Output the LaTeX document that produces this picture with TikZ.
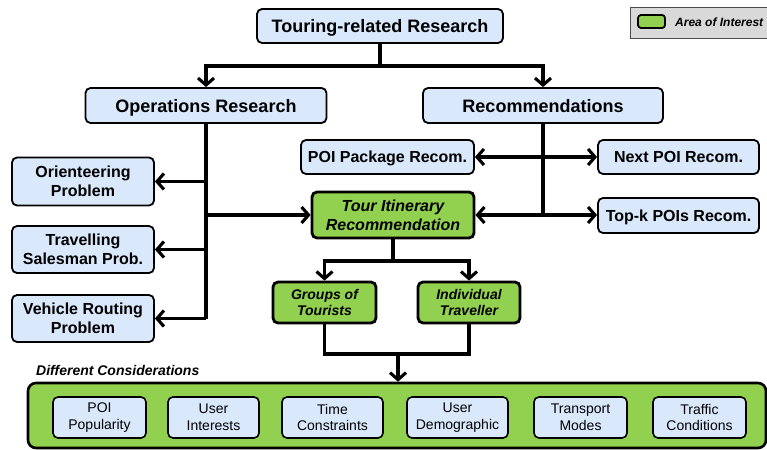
\documentclass[tikz,border=0pt]{standalone}
\usepackage{fontspec}
\setmainfont{Liberation Sans}
\usetikzlibrary{arrows.meta}
\definecolor{blueF}{HTML}{DAE8FC}
\definecolor{greenF}{HTML}{92D050}
\definecolor{greyF}{HTML}{D9D9D9}
\tikzset{
  bluebox/.style={draw=black, fill=blueF, rounded corners=5pt, line width=1.8pt,
    font=\bfseries\fontsize{16}{19}\selectfont, align=center, inner sep=0pt},
  oneline/.style={text depth=0pt},
  greenbox/.style={draw=black, fill=greenF, rounded corners=5pt, line width=2.8pt,
    font=\bfseries\itshape\fontsize{16}{19}\selectfont, align=center, inner sep=0pt},
  smallgreen/.style={greenbox, font=\bfseries\itshape\fontsize{14}{16.7}\selectfont},
  considbox/.style={draw=black, fill=blueF, rounded corners=5pt, line width=1.6pt,
    font=\fontsize{14}{16.7}\selectfont, align=center, inner sep=0pt,
    minimum width=93pt, minimum height=41pt},
  conn/.style={line width=3.1pt, black},
  arr/.style={conn, -{Straight Barb[length=7pt,width=16pt]}},
  darr/.style={conn, {Straight Barb[length=7pt,width=16pt]}-{Straight Barb[length=7pt,width=16pt]}},
}
\begin{document}
\begin{tikzpicture}[x=1pt,y=-1pt]
\useasboundingbox (0,0) rectangle (767,449);
% legend
\draw[fill=greyF, draw=black!70, line width=0.8pt] (630,7) rectangle (775,38);
\node[draw=black, fill=greenF, rounded corners=3pt, line width=1.8pt, minimum width=27pt, minimum height=13pt, inner sep=0pt] (legsw) at (651.5,21.5) {};
\node[anchor=west, font=\bfseries\itshape\fontsize{12}{14}\selectfont, inner sep=0pt] (legtx) at (675,22) {Area of Interest};
% main nodes
\node[bluebox, oneline, font=\bfseries\fontsize{18}{21}\selectfont, minimum width=246pt, minimum height=34pt] (T) at (380,26) {Touring-related Research};
\node[bluebox, oneline, font=\bfseries\fontsize{18}{21}\selectfont, minimum width=241pt, minimum height=35pt] (OR) at (206,105.5) {Operations Research};
\node[bluebox, oneline, font=\bfseries\fontsize{18}{21}\selectfont, minimum width=240pt, minimum height=35pt] (REC) at (543,105.5) {Recommendations};
\node[bluebox, minimum width=142pt, minimum height=48pt] (OP) at (83,181.5) {Orienteering\\Problem};
\node[bluebox, minimum width=142pt, minimum height=47pt] (TSP) at (83,249.5) {Travelling\\Salesman Prob.};
\node[bluebox, minimum width=142pt, minimum height=47pt] (VRP) at (83,318.5) {Vehicle Routing\\Problem};
\node[bluebox, oneline, minimum width=173pt, minimum height=34pt] (PPR) at (387.5,157) {POI Package Recom.};
\node[bluebox, oneline, minimum width=161pt, minimum height=34pt] (NPR) at (678.5,157) {Next POI Recom.};
\node[bluebox, oneline, minimum width=161pt, minimum height=35pt] (TOPK) at (678.5,215.5) {Top-k POIs Recom.};
\node[greenbox, minimum width=162pt, minimum height=46pt] (TIR) at (393,215) {Tour Itinerary\\Recommendation};
\node[smallgreen, minimum width=103pt, minimum height=41pt] (GT) at (324.5,302.5) {Groups of\\Tourists};
\node[smallgreen, minimum width=102pt, minimum height=41pt] (IT) at (469,302.5) {Individual\\Traveller};
\node[anchor=west, font=\bfseries\itshape\fontsize{14}{16}\selectfont, inner sep=0pt] (DC) at (36,370) {Different Considerations};
\node[draw=black, fill=greenF, rounded corners=8pt, line width=2.6pt, minimum width=738pt, minimum height=65pt, inner sep=0pt] (CONS) at (397,415.5) {};
\node[considbox] (C1) at (99.5,417.5) {POI\\Popularity};
\node[considbox, minimum width=91pt] (C2) at (213.5,417.5) {User\\Interests};
\node[considbox, minimum width=101pt] (C3) at (332.5,417.5) {Time\\Constraints};
\node[considbox, minimum width=101pt] (C4) at (457.5,417.5) {User\\Demographic};
\node[considbox] (C5) at (580.5,417.5) {Transport\\Modes};
\node[considbox] (C6) at (699.5,417.5) {Traffic\\Conditions};
% connectors
\coordinate (j1) at (380,66);
\draw[conn] (T.south) -- (j1);
\draw[arr] (j1) -| (OR.north);
\draw[arr] (j1) -| (REC.north);
\draw[conn] (OR.south) -- (OR.south |- VRP.east);
\draw[arr] (OR.south |- OP.east) -- (OP.east);
\draw[arr] (OR.south |- TSP.east) -- (TSP.east);
\draw[arr] (OR.south |- VRP.east) -- (VRP.east);
\draw[arr] (OR.south |- TIR.west) -- (TIR.west);
\draw[conn] (REC.south) -- (REC.south |- TIR.east);
\draw[darr] (PPR.east) -- (NPR.west);
\draw[darr] (TIR.east) -- (TIR.east -| TOPK.west);
\coordinate (j2) at (393,261);
\draw[conn] (TIR.south) -- (j2);
\draw[arr] (j2) -| (GT.north);
\draw[arr] (j2) -| (IT.north);
\coordinate (j3) at (398,354);
\draw[conn] (GT.south) |- (j3) -| (IT.south);
\draw[arr] (j3) -- (CONS.north -| j3);
\end{tikzpicture}
\end{document}
